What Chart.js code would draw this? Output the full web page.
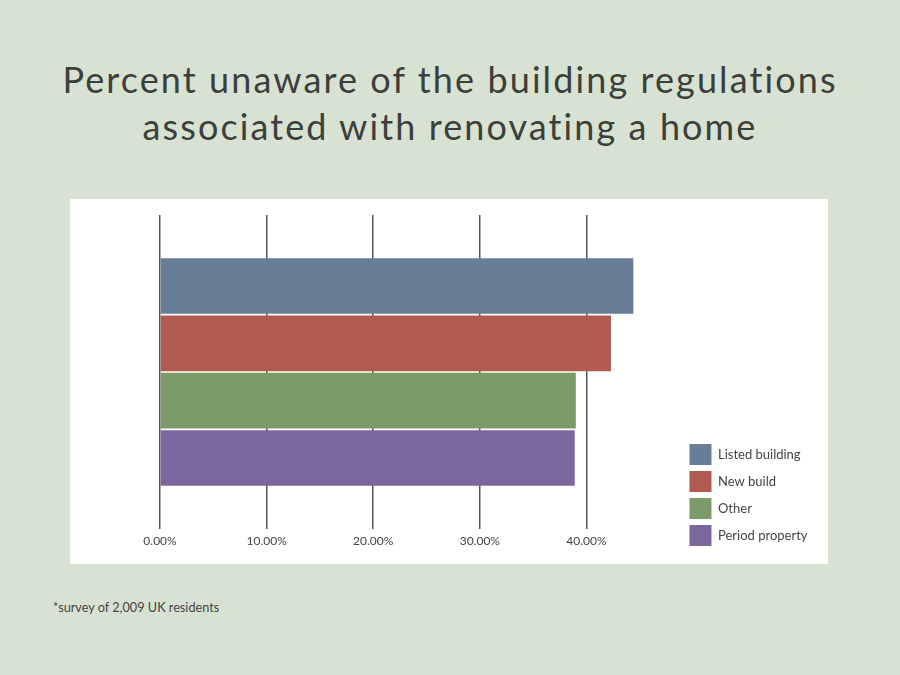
<!DOCTYPE html>
<html>
<head>
<meta charset="utf-8">
<script src="https://cdn.jsdelivr.net/npm/chart.js@4"></script>
<style>
  body { margin: 0; width: 900px; height: 675px; background: #d8e2d3; position: relative; overflow: hidden; font-family: Lato, sans-serif; }
  h1 { position: absolute; left: 0; top: 56px; width: 900px; margin: 0; text-align: center; font-weight: 400; font-size: 36px; line-height: 47px; letter-spacing: 2.1px; color: #3b403b; }
  #panel { position: absolute; left: 70px; top: 199px; width: 758px; height: 365px; background: #fff; }
  .note { position: absolute; left: 53px; top: 599px; font-size: 12.7px; color: #444; }
</style>
</head>
<body>
<h1>Percent unaware of the building regulations<br>associated with renovating a home</h1>
<div id="panel"><canvas id="my-chart" width="758" height="365"></canvas></div>
<div class="note">*survey of 2,009 UK residents</div>
<script>
// valores (percentagem)
const seriesNames = ["Listed building", "New build", "Other", "Period property"]
const seriesValues = [44.4, 42.3, 39.0, 38.9]
const seriesColors = ["#687d96", "#b15a50", "#7b9b69", "#7b679d"]
const tickValues = [0, 10, 20, 30, 40]

const textColor = "#444"
Chart.defaults.font.family = "Lato, sans-serif"
Chart.defaults.font.size = 12
Chart.defaults.color = textColor

new Chart(document.getElementById("my-chart"), {
    type: 'bar',
    data: {
        labels: [""],
        datasets: seriesNames.map((name, i) => ({
            label: name,
            data: [seriesValues[i]],
            backgroundColor: seriesColors[i],
            borderWidth: 0
        }))
    },
    options: {
        indexAxis: 'y',
        responsive: false,
        animation: false,
        categoryPercentage: 0.73,
        barPercentage: 0.97,
        layout: { padding: { left: 90, top: 16, right: 10.5, bottom: 12 } },
        scales: {
            x: {
                min: 0,
                max: 49.1,
                ticks: {
                    padding: 4.5,
                    color: textColor,
                    callback: v => v.toFixed(2) + '%'
                },
                afterBuildTicks: scale => {
                    scale.ticks = tickValues.map(v => ({ value: v }))
                },
                // altura fixa do eixo para alinhar com a legenda
                afterFit: scale => { scale.height = 23 },
                grid: { color: '#555', lineWidth: 1.5, drawTicks: false },
                border: { display: false }
            },
            y: { display: false }
        },
        plugins: {
            legend: {
                position: 'right',
                align: 'end',
                labels: { boxWidth: 22, boxHeight: 21, padding: 6, color: textColor, font: { size: 13 } }
            },
            tooltip: { enabled: false }
        }
    }
});
</script>
</body>
</html>
